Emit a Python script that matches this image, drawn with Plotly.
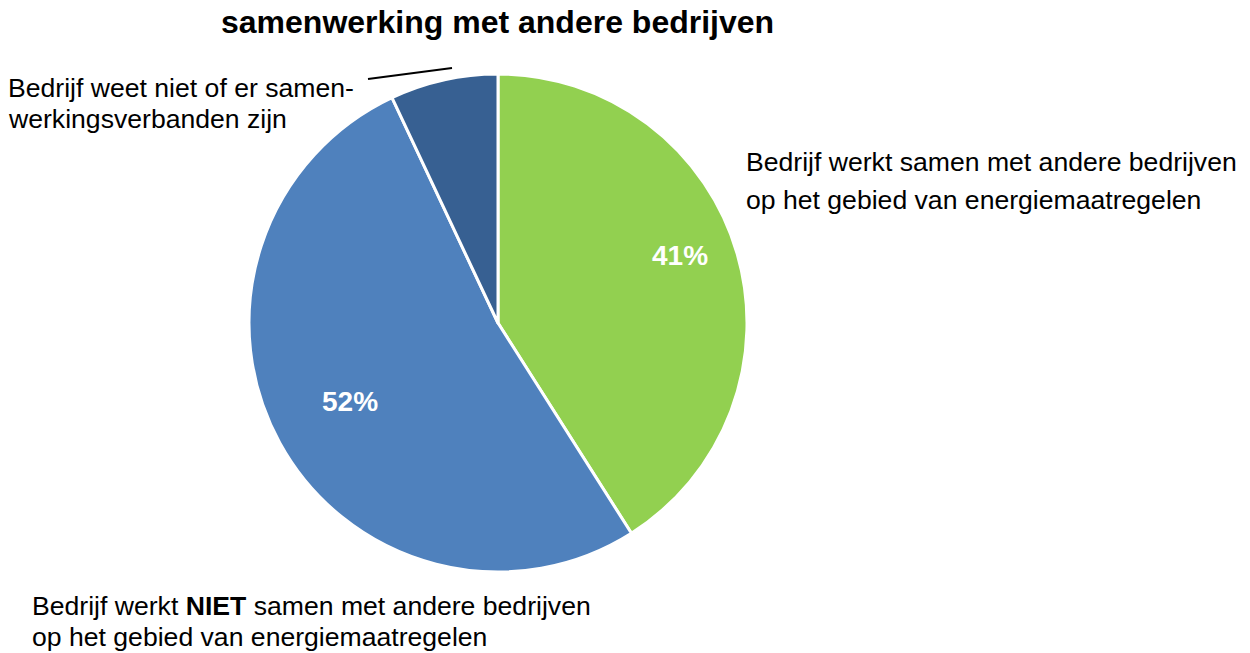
import plotly.graph_objects as go

W, H = 1250, 653

categories = [
    "Bedrijf werkt samen met andere bedrijven op het gebied van energiemaatregelen",
    "Bedrijf werkt NIET samen met andere bedrijven op het gebied van energiemaatregelen",
    "Bedrijf weet niet of er samenwerkingsverbanden zijn",
]
values = [41, 52, 7]
colors = ["#92D050", "#4F81BD", "#376092"]
title_text = "<b>samenwerking met andere bedrijven</b>"

FONT = "Arial, Liberation Sans, sans-serif"

def px(x):
    return x / W

def py(y):
    return 1 - y / H

cx, cy, r = 498, 323, 249

fig = go.Figure(go.Pie(
    labels=categories,
    values=values,
    sort=False,
    direction="clockwise",
    rotation=0,
    marker=dict(colors=colors, line=dict(color="white", width=3)),
    textinfo="none",
    hoverinfo="label+percent",
    showlegend=False,
    domain=dict(x=[px(cx - r), px(cx + r)], y=[py(cy + r), py(cy - r)]),
))

annotations = []

def add_text(text, x, y, size=26.6, anchor="left", color="black"):
    annotations.append(dict(
        text=text, x=px(x), y=py(y), xref="paper", yref="paper",
        xanchor=anchor, yanchor="middle", showarrow=False,
        font=dict(family=FONT, size=size, color=color),
    ))

add_text(title_text, 498, 22, size=32, anchor="center")
add_text("Bedrijf weet niet of er samen-", 6, 88)
add_text("werkingsverbanden zijn", 6, 119)
add_text("Bedrijf werkt samen met andere bedrijven", 744, 162)
add_text("op het gebied van energiemaatregelen", 744, 200)
add_text("Bedrijf werkt <b>NIET</b> samen met andere bedrijven", 30, 606)
add_text("op het gebied van energiemaatregelen", 30, 637)

# percentage labels inside the two large slices
add_text(f"<b>{values[0]}%</b>", 680, 255, size=28, anchor="center", color="white")
add_text(f"<b>{values[1]}%</b>", 350, 401, size=28, anchor="center", color="white")

fig.update_layout(
    width=W, height=H,
    margin=dict(l=0, r=0, t=0, b=0),
    paper_bgcolor="white",
    plot_bgcolor="white",
    annotations=annotations,
    shapes=[dict(type="line", xref="paper", yref="paper",
                 x0=px(368), y0=py(79), x1=px(452), y1=py(68),
                 line=dict(color="black", width=2))],
)

fig.write_html(
    "out.html",
    config={"displayModeBar": False},
    post_script="document.body.style.margin='0';document.body.style.overflow='hidden';",
)
